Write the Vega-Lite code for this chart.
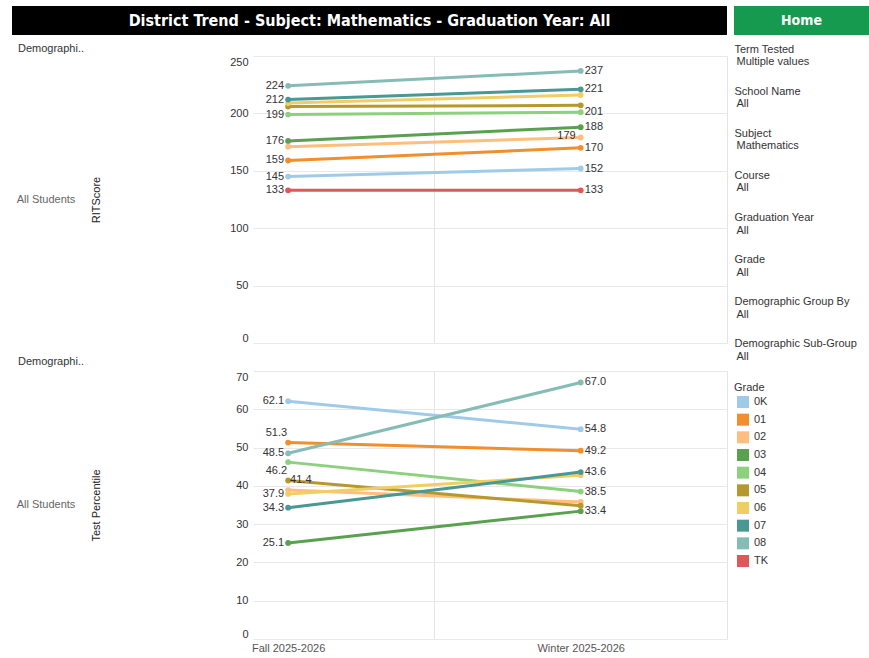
{
  "$schema": "https://vega.github.io/schema/vega-lite/v6.json",
  "padding": {"left": 12, "top": 6, "right": 0, "bottom": 0},
  "background": "white",
  "config": {
    "font": "Liberation Sans",
    "view": {"stroke": null},
    "text": {"fontSize": 11}
  },
  "datasets": {
    "scores": [
      {"grade": "0K", "term": "Fall 2025-2026", "rit": 145, "pct": 62.1},
      {"grade": "01", "term": "Fall 2025-2026", "rit": 159, "pct": 51.3},
      {"grade": "02", "term": "Fall 2025-2026", "rit": 171, "pct": 38.9},
      {"grade": "03", "term": "Fall 2025-2026", "rit": 176, "pct": 25.1},
      {"grade": "04", "term": "Fall 2025-2026", "rit": 199, "pct": 46.2},
      {"grade": "05", "term": "Fall 2025-2026", "rit": 206, "pct": 41.4},
      {"grade": "06", "term": "Fall 2025-2026", "rit": 209, "pct": 37.9},
      {"grade": "07", "term": "Fall 2025-2026", "rit": 212, "pct": 34.3},
      {"grade": "08", "term": "Fall 2025-2026", "rit": 224, "pct": 48.5},
      {"grade": "TK", "term": "Fall 2025-2026", "rit": 133, "pct": null},
      {"grade": "0K", "term": "Winter 2025-2026", "rit": 152, "pct": 54.8},
      {"grade": "01", "term": "Winter 2025-2026", "rit": 170, "pct": 49.2},
      {"grade": "02", "term": "Winter 2025-2026", "rit": 179, "pct": 35.8},
      {"grade": "03", "term": "Winter 2025-2026", "rit": 188, "pct": 33.4},
      {"grade": "04", "term": "Winter 2025-2026", "rit": 201, "pct": 38.5},
      {"grade": "05", "term": "Winter 2025-2026", "rit": 207, "pct": 34.8},
      {"grade": "06", "term": "Winter 2025-2026", "rit": 216, "pct": 42.8},
      {"grade": "07", "term": "Winter 2025-2026", "rit": 221, "pct": 43.6},
      {"grade": "08", "term": "Winter 2025-2026", "rit": 237, "pct": 67.0},
      {"grade": "TK", "term": "Winter 2025-2026", "rit": 133, "pct": null}
    ],
    "filters": [
      {"name": "Term Tested", "value": "Multiple values"},
      {"name": "School Name", "value": "All"},
      {"name": "Subject", "value": "Mathematics"},
      {"name": "Course", "value": "All"},
      {"name": "Graduation Year", "value": "All"},
      {"name": "Grade", "value": "All"},
      {"name": "Demographic Group By", "value": "All"},
      {"name": "Demographic Sub-Group", "value": "All"}
    ]
  },
  "spacing": 7,
  "hconcat": [
    {
      "spacing": 8,
      "vconcat": [
        {
          "width": 715,
          "height": 29,
          "view": {"fill": "#000000", "stroke": null},
          "data": {"values": [{"t": "District Trend - Subject: Mathematics - Graduation Year: All"}]},
          "mark": {"type": "text", "color": "#ffffff", "fontSize": 16, "fontWeight": "bold", "font": "Liberation Sans Narrow, DejaVu Sans Condensed, sans-serif"},
          "encoding": {"text": {"field": "t"}}
        },
        {
          "spacing": 13,
          "vconcat": [
            {
              "title": {"text": "Demographi..", "anchor": "start", "frame": "bounds", "dx": 6, "offset": -9, "baseline": "bottom", "fontSize": 11, "fontWeight": "normal", "color": "#333333"},
              "spacing": 10,
              "hconcat": [
                {
                  "width": 68,
                  "height": 287,
                  "data": {"values": [{"t": "All Students"}]},
                  "mark": {"type": "text", "fontSize": 11, "color": "#666666"},
                  "encoding": {"text": {"field": "t"}}
                },
                {
                  "width": 474,
                  "height": 287,
                  "data": {"name": "scores"},
                  "encoding": {
                    "x": {
                      "field": "term", "type": "nominal",
                      "scale": {"type": "point", "domain": ["Fall 2025-2026", "mid", "Winter 2025-2026", "end"], "padding": 0.12, "align": 1},
                      "axis": {"title": null, "labels": false, "ticks": false, "domain": false, "grid": true, "gridColor": "#e4e4e4",
                        "gridOpacity": {"condition": {"test": "datum.value === 'mid' || datum.value === 'end'", "value": 1}, "value": 0}}
                    },
                    "y": {
                      "field": "rit", "type": "quantitative",
                      "scale": {"domain": [0, 250], "nice": false},
                      "axis": {"title": "RITScore", "values": [0, 50, 100, 150, 200, 250], "labelFlush": true, "ticks": false, "domain": false,
                        "gridColor": "#e8e8e8", "labelColor": "#333333", "labelFontSize": 11, "labelPadding": 5,
                        "minExtent": 145, "maxExtent": 145, "titlePadding": 7, "titleFontSize": 11, "titleFontWeight": "normal", "titleColor": "#222222"}
                    },
                    "color": {
                      "field": "grade", "type": "nominal",
                      "scale": {"domain": ["0K", "01", "02", "03", "04", "05", "06", "07", "08", "TK"], "range": ["#A0CBE8", "#F28E2B", "#FFBE7D", "#59A14F", "#8CD17D", "#B6992D", "#F1CE63", "#499894", "#86BCB6", "#E15759"]},
                      "legend": null
                    }
                  },
                  "layer": [
                    {"mark": {"type": "line", "strokeWidth": 3, "point": {"filled": true, "size": 34}}},
                    {
                      "transform": [{"filter": "datum.term === 'Fall 2025-2026' && indexof(['02','05','06'], datum.grade) < 0"}],
                      "mark": {"type": "text", "align": "right", "dx": -4, "fontSize": 11},
                      "encoding": {"text": {"field": "rit", "format": "d"}, "color": {"value": "#333333"}}
                    },
                    {
                      "transform": [{"filter": "datum.term === 'Winter 2025-2026' && indexof(['02','05','06'], datum.grade) < 0"}],
                      "mark": {"type": "text", "align": "left", "dx": 4, "fontSize": 11},
                      "encoding": {"text": {"field": "rit", "format": "d"}, "color": {"value": "#333333"}}
                    },
                    {
                      "transform": [{"filter": "datum.term === 'Winter 2025-2026' && datum.grade === '02'"}],
                      "mark": {"type": "text", "align": "right", "dx": -5, "dy": -2, "fontSize": 11},
                      "encoding": {"text": {"field": "rit", "format": "d"}, "color": {"value": "#333333"}}
                    }
                  ]
                }
              ]
            },
            {
              "title": {"text": "Demographi..", "anchor": "start", "frame": "bounds", "dx": 6, "offset": -7, "baseline": "bottom", "fontSize": 11, "fontWeight": "normal", "color": "#333333"},
              "spacing": 10,
              "hconcat": [
                {
                  "width": 68,
                  "height": 268,
                  "data": {"values": [{"t": "All Students"}]},
                  "mark": {"type": "text", "fontSize": 11, "color": "#666666"},
                  "encoding": {"text": {"field": "t"}}
                },
                {
                  "width": 474,
                  "height": 268,
                  "data": {"name": "scores"},
                  "transform": [{"filter": "isValid(datum.pct)"}],
                  "encoding": {
                    "x": {
                      "field": "term", "type": "nominal",
                      "scale": {"type": "point", "domain": ["Fall 2025-2026", "mid", "Winter 2025-2026", "end"], "padding": 0.12, "align": 1},
                      "axis": {"title": null, "ticks": false, "domain": false, "grid": true, "gridColor": "#e4e4e4",
                        "gridOpacity": {"condition": {"test": "datum.value === 'mid' || datum.value === 'end'", "value": 1}, "value": 0},
                        "labelExpr": "datum.value === 'mid' || datum.value === 'end' ? '' : datum.value",
                        "labelAngle": 0, "labelColor": "#555555", "labelFontSize": 11, "labelPadding": 3}
                    },
                    "y": {
                      "field": "pct", "type": "quantitative",
                      "scale": {"domain": [0, 70], "nice": false},
                      "axis": {"title": "Test Percentile", "values": [0, 10, 20, 30, 40, 50, 60, 70], "labelFlush": true, "ticks": false, "domain": false,
                        "gridColor": "#e8e8e8", "labelColor": "#333333", "labelFontSize": 11, "labelPadding": 5,
                        "minExtent": 145, "maxExtent": 145, "titlePadding": 7, "titleFontSize": 11, "titleFontWeight": "normal", "titleColor": "#222222"}
                    },
                    "color": {
                      "field": "grade", "type": "nominal",
                      "scale": {"domain": ["0K", "01", "02", "03", "04", "05", "06", "07", "08", "TK"], "range": ["#A0CBE8", "#F28E2B", "#FFBE7D", "#59A14F", "#8CD17D", "#B6992D", "#F1CE63", "#499894", "#86BCB6", "#E15759"]},
                      "legend": null
                    }
                  },
                  "layer": [
                    {"mark": {"type": "line", "strokeWidth": 3, "point": {"filled": true, "size": 34}}},
                    {
                      "transform": [{"filter": "datum.term === 'Fall 2025-2026' && indexof(['0K','08','06','07','03'], datum.grade) >= 0"}],
                      "mark": {"type": "text", "align": "right", "dx": -4, "fontSize": 11},
                      "encoding": {"text": {"field": "pct", "format": ".1f"}, "color": {"value": "#333333"}}
                    },
                    {
                      "transform": [{"filter": "datum.term === 'Fall 2025-2026' && datum.grade === '01'"}],
                      "mark": {"type": "text", "align": "right", "dx": -1, "dy": -10, "fontSize": 11},
                      "encoding": {"text": {"field": "pct", "format": ".1f"}, "color": {"value": "#333333"}}
                    },
                    {
                      "transform": [{"filter": "datum.term === 'Fall 2025-2026' && datum.grade === '04'"}],
                      "mark": {"type": "text", "align": "right", "dx": -1, "dy": 9, "fontSize": 11},
                      "encoding": {"text": {"field": "pct", "format": ".1f"}, "color": {"value": "#333333"}}
                    },
                    {
                      "transform": [{"filter": "datum.term === 'Fall 2025-2026' && datum.grade === '05'"}],
                      "mark": {"type": "text", "align": "left", "dx": 2, "fontSize": 11},
                      "encoding": {"text": {"field": "pct", "format": ".1f"}, "color": {"value": "#333333"}}
                    },
                    {
                      "transform": [{"filter": "datum.term === 'Winter 2025-2026' && indexof(['08','0K','01','07','04','03'], datum.grade) >= 0"}],
                      "mark": {"type": "text", "align": "left", "dx": 4, "fontSize": 11},
                      "encoding": {"text": {"field": "pct", "format": ".1f"}, "color": {"value": "#333333"}}
                    }
                  ]
                }
              ]
            }
          ]
        }
      ]
    },
    {
      "spacing": 2,
      "vconcat": [
        {
          "width": 135,
          "height": 29,
          "view": {"fill": "#159a50", "stroke": null},
          "data": {"values": [{"t": "Home"}]},
          "mark": {"type": "text", "color": "#ffffff", "fontSize": 14, "fontWeight": "bold", "font": "Liberation Sans Narrow, DejaVu Sans Condensed, sans-serif"},
          "encoding": {"text": {"field": "t"}}
        },
        {
          "spacing": 19,
          "vconcat": [
            {
              "width": 1,
              "height": 320,
              "data": {"name": "filters"},
              "encoding": {
                "y": {"field": "name", "type": "nominal", "sort": null, "scale": {"type": "point", "padding": 0.3095, "align": 0.5}, "axis": null}
              },
              "layer": [
                {"mark": {"type": "text", "align": "left", "baseline": "middle", "fontSize": 11, "color": "#333333"}, "encoding": {"text": {"field": "name"}}},
                {"mark": {"type": "text", "align": "left", "baseline": "middle", "fontSize": 11, "color": "#333333", "dx": 2, "dy": 12.5}, "encoding": {"text": {"field": "value"}}}
              ]
            },
            {
              "title": {"text": "Grade", "anchor": "start", "frame": "bounds", "offset": -8, "baseline": "bottom", "fontSize": 11, "fontWeight": "normal", "color": "#333333"},
              "width": 18,
              "height": 169,
              "data": {"name": "scores"},
              "transform": [{"filter": "datum.term === 'Fall 2025-2026'"}],
              "encoding": {
                "y": {"field": "grade", "type": "nominal", "sort": ["0K", "01", "02", "03", "04", "05", "06", "07", "08", "TK"], "scale": {"type": "point", "padding": 0.283}, "axis": null}
              },
              "layer": [
                {
                  "mark": {"type": "square", "size": 144, "filled": true, "opacity": 1},
                  "encoding": {
                    "color": {
                      "field": "grade", "type": "nominal",
                      "scale": {"domain": ["0K", "01", "02", "03", "04", "05", "06", "07", "08", "TK"], "range": ["#A0CBE8", "#F28E2B", "#FFBE7D", "#59A14F", "#8CD17D", "#B6992D", "#F1CE63", "#499894", "#86BCB6", "#E15759"]},
                      "legend": null
                    }
                  }
                },
                {"mark": {"type": "text", "align": "left", "baseline": "middle", "dx": 11, "fontSize": 11, "color": "#333333"}, "encoding": {"text": {"field": "grade"}}}
              ]
            }
          ]
        }
      ]
    }
  ]
}
